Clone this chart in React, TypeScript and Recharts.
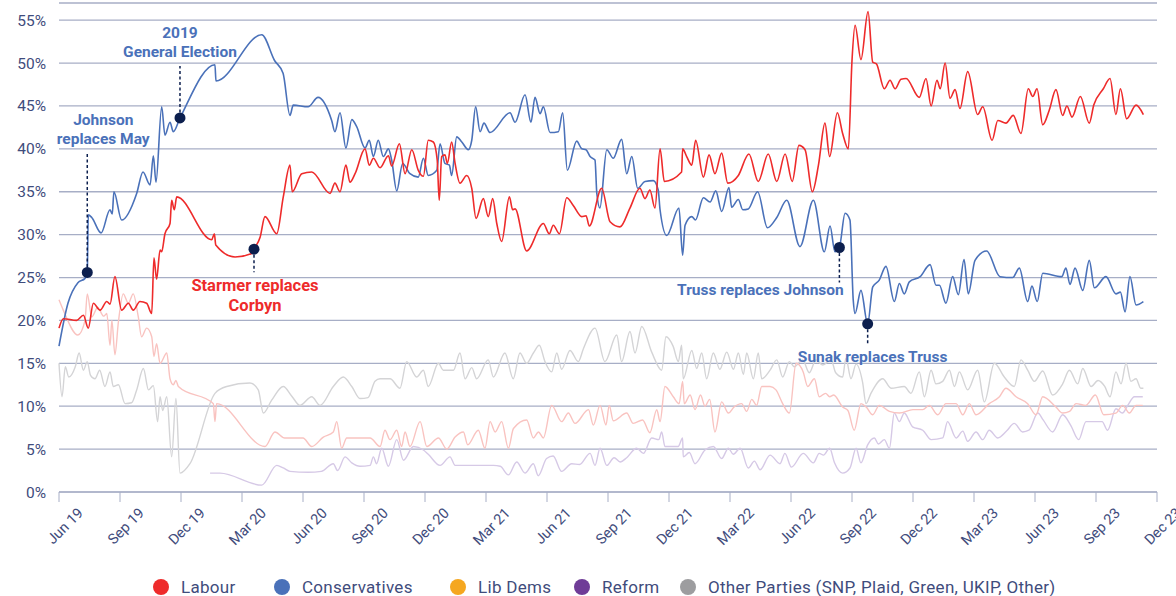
import { LineChart, Line, XAxis, YAxis, CartesianGrid, ReferenceDot } from 'recharts';

// months since Jun 2019 (0 = Jun 19, 54 = Dec 23) and vote share in %
type Pt = [number, number];

const TICK_MONTHS = [0, 3, 6, 9, 12, 15, 18, 21, 24, 27, 30, 33, 36, 39, 42, 45, 48, 51, 54];
const TICK_LABELS = [
  'Jun 19', 'Sep 19', 'Dec 19', 'Mar 20', 'Jun 20', 'Sep 20', 'Dec 20', 'Mar 21', 'Jun 21',
  'Sep 21', 'Dec 21', 'Mar 22', 'Jun 22', 'Sep 22', 'Dec 22', 'Mar 23', 'Jun 23', 'Sep 23', 'Dec 23'
];
const Y_TICKS = [0, 5, 10, 15, 20, 25, 30, 35, 40, 45, 50, 55];

const conservatives: Pt[] = [
  [0, 17.0], [0.44, 22.0], [0.93, 24.4], [1.28, 24.9], [1.39, 25.6], [1.44, 32.3], [1.61, 32.0],
  [2.07, 30.2], [2.51, 32.9], [2.62, 32.4], [2.7, 35.0], [3.08, 31.7], [3.82, 34.8], [4.13, 37.3],
  [4.48, 35.8], [4.64, 39.2], [4.77, 36.1], [5.05, 44.9], [5.21, 41.6], [5.46, 43.1], [5.62, 42.0],
  [5.95, 43.6], [7.67, 49.8], [7.72, 47.9], [9.97, 53.3], [10.6, 50.3], [11.02, 48.8], [11.36, 43.9],
  [11.52, 45.1], [12.25, 44.9], [12.74, 46.0], [13.41, 43.3], [13.57, 42.0], [13.82, 44.2],
  [14.11, 40.1], [14.4, 43.4], [14.64, 42.6], [15.05, 40.1], [15.26, 41.0], [15.46, 39.1],
  [15.7, 41.0], [15.95, 39.1], [16.2, 40.0], [16.36, 38.7], [16.61, 35.1], [16.9, 38.3],
  [17.26, 37.1], [17.67, 36.7], [17.92, 38.9], [18.16, 36.9], [18.58, 37.5], [18.74, 40.6],
  [18.98, 38.3], [19.2, 38.1], [19.31, 36.9], [19.56, 41.4], [19.81, 40.8], [20.13, 39.9],
  [20.3, 41.0], [20.49, 44.9], [20.71, 42.0], [20.9, 43.0], [21.2, 41.9], [22.18, 44.2],
  [22.43, 43.1], [22.92, 46.3], [23.21, 43.1], [23.41, 46.0], [23.66, 44.1], [23.82, 44.9],
  [24.15, 41.9], [24.56, 42.0], [24.77, 44.2], [25.0, 37.5], [25.46, 40.9], [25.71, 40.0],
  [25.92, 39.9], [26.12, 39.1], [26.36, 38.7], [26.45, 34.8], [26.6, 33.1], [26.94, 39.9],
  [27.26, 38.9], [27.67, 41.1], [27.92, 37.1], [28.17, 39.1], [28.46, 35.4], [28.82, 36.2],
  [29.23, 36.3], [29.47, 35.2], [29.56, 32.9], [29.89, 29.9], [30.49, 33.1], [30.67, 27.6],
  [30.79, 31.1], [31.12, 32.1], [31.3, 31.7], [31.69, 34.3], [32.02, 33.8], [32.3, 35.1],
  [32.59, 32.7], [32.95, 35.5], [33.08, 33.2], [33.41, 34.1], [33.63, 32.9], [33.9, 33.0],
  [34.36, 35.0], [34.84, 30.8], [35.3, 32.0], [35.79, 34.0], [36.44, 28.6], [37.1, 34.0],
  [37.64, 28.0], [37.92, 31.0], [38.16, 28.0], [38.38, 28.5], [38.66, 32.5], [38.9, 31.7],
  [39.06, 22.4], [39.15, 20.8], [39.44, 23.5], [39.77, 19.6], [40.02, 23.9], [40.34, 24.7],
  [40.67, 26.3], [41.08, 22.2], [41.33, 24.3], [41.57, 23.1], [41.82, 24.5], [42.35, 25.1],
  [42.84, 26.5], [43.13, 24.1], [43.3, 24.1], [43.62, 22.0], [43.95, 25.1], [44.23, 23.0],
  [44.51, 27.1], [44.72, 23.1], [45.05, 27.0], [45.62, 28.1], [46.28, 25.1], [46.9, 25.0],
  [47.23, 26.1], [47.64, 22.2], [47.85, 24.0], [48.11, 22.2], [48.38, 25.5], [49.31, 25.1],
  [49.52, 26.1], [49.72, 24.2], [49.97, 26.1], [50.35, 23.5], [50.67, 27.0], [50.92, 23.8],
  [51.49, 25.1], [51.98, 23.1], [52.2, 23.3], [52.43, 21.0], [52.67, 25.1], [52.97, 21.8],
  [53.33, 22.2]
];

const labour: Pt[] = [
  [0, 19.1], [0.21, 20.2], [0.87, 20.0], [1.2, 20.6], [1.44, 19.1], [1.69, 22.0], [2.02, 21.2],
  [2.35, 22.2], [2.51, 21.9], [2.75, 25.1], [3.08, 21.2], [3.41, 22.0], [3.65, 21.2], [3.98, 22.2],
  [4.31, 22.0], [4.56, 20.8], [4.67, 27.3], [4.8, 24.8], [4.97, 28.2], [5.05, 28.0], [5.21, 30.1],
  [5.46, 31.3], [5.54, 34.0], [5.67, 32.9], [5.79, 34.4], [7.51, 29.4], [7.64, 30.1], [7.71, 28.8],
  [8.66, 27.4], [9.48, 27.8], [9.59, 28.3], [9.89, 29.7], [10.13, 32.1], [10.71, 30.1],
  [11.03, 34.4], [11.36, 38.1], [11.47, 35.0], [11.94, 37.1], [12.43, 37.3], [13.33, 34.8],
  [13.57, 36.0], [13.82, 35.0], [14.11, 38.1], [14.31, 36.1], [14.56, 37.1], [15.05, 40.0],
  [15.26, 38.1], [15.46, 38.9], [15.79, 37.8], [16.2, 39.2], [16.36, 38.0], [16.74, 40.6],
  [17.02, 37.1], [17.35, 39.9], [17.67, 37.5], [17.92, 36.8], [18.16, 41.0], [18.41, 40.8],
  [18.6, 38.7], [18.7, 34.0], [18.82, 39.1], [18.98, 39.3], [19.1, 38.3], [19.31, 40.8],
  [19.48, 38.3], [19.72, 36.0], [20.05, 36.9], [20.3, 35.4], [20.51, 31.9], [20.87, 34.2],
  [21.11, 32.1], [21.33, 34.2], [21.53, 31.3], [21.77, 29.2], [22.15, 34.4], [22.31, 32.9],
  [22.43, 33.0], [23.0, 28.1], [23.82, 31.3], [24.11, 30.1], [24.31, 31.1], [24.61, 30.1],
  [24.97, 34.3], [25.29, 33.4], [25.71, 32.1], [25.92, 32.2], [26.08, 31.0], [26.69, 35.4],
  [27.1, 31.5], [27.59, 30.9], [28.08, 33.1], [28.57, 35.4], [28.82, 34.2], [29.06, 35.2],
  [29.31, 33.1], [29.56, 40.0], [29.77, 36.2], [30.62, 37.3], [30.67, 40.0], [30.87, 39.1],
  [31.12, 38.1], [31.31, 41.0], [31.69, 36.7], [31.97, 39.3], [32.26, 37.1], [32.59, 39.5],
  [32.89, 36.0], [33.41, 36.9], [33.93, 39.4], [34.39, 36.2], [34.88, 39.4], [35.3, 36.2],
  [35.71, 39.4], [36.06, 36.2], [36.39, 40.4], [36.69, 39.9], [37.05, 35.0], [37.35, 38.1],
  [37.67, 43.0], [37.9, 39.1], [38.28, 44.2], [38.54, 41.8], [38.82, 40.0], [39.0, 50.3],
  [39.15, 54.4], [39.44, 50.4], [39.79, 56.0], [40.02, 50.1], [40.2, 49.9], [40.59, 47.0],
  [40.87, 48.0], [41.12, 47.0], [41.41, 48.1], [41.66, 48.2], [42.31, 46.0], [42.64, 48.2],
  [42.89, 45.0], [43.18, 48.0], [43.34, 47.0], [43.58, 50.0], [43.82, 45.9], [44.07, 46.9],
  [44.31, 44.7], [44.69, 49.0], [45.18, 44.0], [45.43, 44.9], [45.89, 41.0], [46.17, 43.3],
  [46.57, 43.0], [46.93, 43.9], [47.31, 41.8], [47.67, 47.0], [47.89, 46.1], [48.1, 47.0],
  [48.38, 42.8], [48.7, 44.5], [49.03, 46.9], [49.36, 43.9], [49.57, 45.0], [49.82, 43.7],
  [50.23, 46.1], [50.67, 43.0], [50.89, 45.1], [51.36, 47.0], [51.69, 48.2], [51.98, 44.0],
  [52.2, 47.0], [52.51, 43.5], [52.97, 45.1], [53.33, 44.0]
];

const libDems: Pt[] = [
  [0, 22.4], [0.21, 21.2], [0.93, 18.3], [1.28, 20.0], [1.39, 23.1], [1.61, 20.4], [1.9, 21.5],
  [2.2, 20.5], [2.35, 20.8], [2.51, 17.1], [2.6, 20.0], [2.75, 16.0], [2.92, 19.8], [3.16, 23.1],
  [3.41, 22.0], [3.65, 23.1], [3.9, 20.4], [4.06, 18.1], [4.31, 19.1], [4.56, 18.1], [4.67, 15.8],
  [4.8, 17.3], [4.97, 15.0], [5.3, 16.2], [5.46, 13.2], [5.62, 12.5], [5.75, 13.0], [5.87, 12.3],
  [7.59, 10.3], [7.67, 8.2], [7.75, 10.3], [10.13, 5.3], [10.62, 7.0], [11.1, 6.3], [12.0, 6.3],
  [12.43, 5.3], [13.0, 6.4], [13.49, 7.0], [13.66, 8.2], [13.9, 5.1], [14.15, 6.3], [15.3, 6.3],
  [15.79, 5.3], [16.03, 7.2], [16.28, 6.1], [16.61, 7.2], [16.85, 5.3], [17.02, 7.0], [17.26, 5.3],
  [17.76, 8.2], [18.09, 5.3], [18.66, 6.3], [19.07, 5.0], [19.48, 6.4], [19.89, 7.0], [20.1, 5.5],
  [20.62, 7.2], [20.95, 5.1], [21.2, 8.2], [21.45, 7.0], [21.77, 8.2], [22.1, 5.1], [22.35, 7.4],
  [23.0, 8.4], [23.33, 6.3], [23.58, 7.0], [23.82, 6.3], [24.23, 10.1], [24.72, 8.2], [25.05, 9.2],
  [25.38, 8.0], [26.04, 9.6], [26.28, 7.8], [26.61, 10.1], [26.9, 7.8], [27.06, 10.1], [27.26, 8.3],
  [27.92, 9.2], [28.24, 8.0], [28.7, 8.4], [29.06, 6.9], [29.4, 9.6], [29.56, 8.2], [29.8, 12.3],
  [30.21, 11.1], [30.5, 10.3], [30.67, 12.9], [30.75, 10.3], [31.04, 11.3], [31.28, 9.6],
  [31.55, 11.3], [31.77, 10.0], [32.0, 10.8], [32.26, 7.0], [32.59, 10.5], [32.92, 9.2],
  [33.2, 9.9], [33.57, 10.3], [33.82, 9.4], [34.07, 10.8], [34.31, 10.1], [34.56, 12.3],
  [34.97, 12.3], [35.26, 11.9], [35.59, 10.3], [35.92, 9.2], [36.25, 15.0], [36.6, 14.0],
  [36.82, 12.3], [37.15, 13.2], [37.39, 11.1], [37.7, 11.5], [37.9, 11.1], [38.1, 11.3],
  [38.54, 9.9], [38.8, 9.5], [39.11, 7.2], [39.44, 10.3], [39.7, 9.9], [40.02, 9.0], [40.34, 10.1],
  [40.84, 9.4], [41.33, 9.2], [42.0, 9.6], [42.48, 9.6], [42.8, 10.1], [43.22, 9.0], [43.62, 10.3],
  [44.12, 10.3], [44.45, 9.0], [44.77, 10.3], [45.1, 9.0], [45.75, 10.3], [46.25, 11.1],
  [46.57, 12.1], [47.07, 11.1], [47.64, 10.3], [48.05, 9.0], [48.38, 11.1], [49.03, 9.9],
  [49.36, 9.2], [49.7, 9.4], [50.02, 10.3], [50.5, 10.1], [50.97, 11.3], [51.38, 9.0], [51.98, 9.2],
  [52.31, 10.1], [52.64, 9.2], [52.97, 10.1], [53.3, 10.1]
];

const reform: Pt[] = [
  [7.43, 2.2], [7.92, 2.2], [9.97, 0.8], [10.71, 3.1], [11.03, 2.8], [11.36, 2.4], [12.26, 2.3],
  [12.9, 2.4], [13.49, 3.3], [13.7, 2.5], [14.07, 4.1], [14.4, 3.4], [14.8, 3.0], [15.3, 3.1],
  [15.46, 4.1], [15.62, 3.3], [15.87, 5.1], [16.2, 3.0], [16.61, 6.1], [16.94, 3.7], [17.43, 5.3],
  [17.92, 4.9], [18.16, 4.4], [18.74, 3.1], [19.23, 4.1], [19.48, 3.1], [21.36, 3.1], [21.7, 3.0],
  [22.1, 2.0], [22.51, 3.5], [22.92, 2.2], [23.33, 3.3], [23.57, 1.9], [23.98, 3.9], [24.3, 4.2],
  [24.72, 2.4], [25.21, 3.3], [25.6, 3.2], [26.12, 4.5], [26.36, 3.1], [26.61, 5.1], [26.94, 3.1],
  [27.3, 4.0], [27.6, 3.5], [27.92, 4.0], [28.41, 5.1], [28.74, 4.5], [29.15, 6.3], [29.5, 6.1],
  [29.64, 7.0], [29.8, 5.3], [30.45, 5.3], [30.67, 6.3], [30.7, 4.1], [31.0, 4.6], [31.28, 3.3],
  [31.77, 4.9], [32.18, 5.3], [32.59, 3.9], [32.92, 5.1], [33.16, 4.4], [33.5, 5.1], [33.9, 2.8],
  [34.2, 3.6], [34.48, 2.6], [34.97, 4.3], [35.46, 3.3], [35.7, 4.5], [36.02, 2.9], [36.6, 4.5],
  [37.1, 3.4], [37.39, 4.5], [37.6, 4.3], [37.9, 5.1], [38.14, 3.4], [38.54, 2.2], [38.9, 2.8],
  [39.2, 5.1], [39.44, 3.4], [39.77, 5.5], [40.1, 6.3], [40.3, 5.6], [40.59, 6.1], [40.84, 5.1],
  [41.08, 9.2], [41.33, 8.2], [41.57, 9.2], [41.98, 7.6], [42.48, 7.2], [42.89, 6.1], [43.46, 6.3],
  [43.7, 8.2], [44.12, 6.3], [44.45, 7.1], [44.69, 5.9], [45.1, 7.0], [45.43, 6.1], [45.75, 7.2],
  [46.17, 6.3], [46.6, 7.1], [46.98, 8.0], [47.39, 7.0], [47.7, 7.2], [48.14, 9.2], [48.4, 8.4],
  [48.87, 7.0], [49.36, 9.0], [49.75, 7.8], [50.15, 6.1], [50.51, 8.2], [51.0, 8.2], [51.3, 8.2],
  [51.57, 7.2], [51.98, 9.7], [52.3, 9.2], [52.56, 10.1], [52.89, 11.1], [53.3, 11.1]
];

const otherParties: Pt[] = [
  [0, 15.0], [0.15, 11.1], [0.31, 14.6], [0.48, 13.4], [0.8, 14.6], [0.99, 16.2], [1.2, 14.2],
  [1.39, 15.2], [1.55, 13.6], [1.77, 13.2], [2.0, 14.2], [2.26, 12.3], [2.51, 14.0], [2.67, 12.3],
  [2.92, 12.5], [3.25, 10.3], [3.57, 10.4], [3.82, 11.9], [4.15, 14.4], [4.4, 11.9], [4.64, 12.4],
  [4.85, 8.2], [4.97, 11.1], [5.1, 9.5], [5.3, 11.1], [5.54, 4.1], [5.75, 10.9], [5.95, 2.2],
  [6.44, 3.3], [7.67, 11.5], [8.25, 12.3], [9.39, 12.7], [9.8, 11.9], [10.05, 9.2], [10.46, 10.7],
  [11.03, 12.3], [11.44, 11.2], [11.85, 10.1], [12.43, 11.1], [12.84, 10.1], [13.49, 12.3],
  [13.98, 13.4], [14.4, 12.3], [14.8, 10.9], [15.2, 11.0], [15.54, 12.9], [15.79, 13.2],
  [16.28, 13.2], [16.77, 12.1], [17.1, 15.2], [17.59, 13.4], [17.92, 14.2], [18.16, 12.3],
  [18.66, 15.0], [18.9, 14.2], [19.4, 14.2], [19.72, 16.2], [19.97, 13.2], [20.3, 14.5],
  [20.54, 13.2], [21.11, 15.4], [21.36, 13.4], [21.93, 16.2], [22.34, 13.2], [22.67, 16.2],
  [23.0, 15.0], [23.33, 16.2], [23.62, 17.1], [23.9, 15.2], [24.23, 14.0], [24.48, 16.2],
  [24.72, 14.3], [25.13, 16.5], [25.54, 15.2], [25.79, 16.7], [26.36, 19.1], [26.85, 15.2],
  [27.43, 18.3], [27.67, 15.2], [28.08, 18.7], [28.33, 16.2], [28.66, 19.3], [29.15, 16.3],
  [29.64, 14.2], [29.85, 18.1], [30.2, 17.0], [30.46, 15.2], [30.62, 17.1], [30.7, 13.2],
  [31.12, 16.5], [31.36, 14.4], [31.61, 16.2], [31.85, 13.2], [32.18, 16.2], [32.5, 14.3],
  [32.84, 16.3], [33.17, 14.3], [33.41, 16.2], [33.66, 13.7], [33.82, 16.2], [34.15, 13.2],
  [34.39, 16.2], [34.56, 13.2], [34.97, 14.2], [35.3, 15.4], [35.59, 13.4], [35.92, 15.2],
  [36.16, 14.6], [36.57, 15.4], [36.9, 13.9], [37.23, 15.4], [37.56, 14.8], [37.97, 15.4],
  [38.2, 13.9], [38.54, 13.4], [38.7, 15.6], [38.95, 13.2], [39.2, 14.9], [39.52, 12.8],
  [39.69, 10.3], [39.93, 11.5], [40.51, 13.2], [40.92, 12.1], [41.57, 12.3], [41.9, 11.5],
  [42.31, 14.0], [42.56, 11.1], [42.89, 14.2], [43.13, 12.6], [43.46, 12.9], [43.79, 14.2],
  [44.04, 12.3], [44.28, 14.0], [44.69, 11.9], [45.18, 14.2], [45.51, 10.5], [46.0, 15.0],
  [46.49, 13.4], [46.98, 12.3], [47.31, 15.4], [47.64, 14.2], [47.97, 12.9], [48.38, 14.1],
  [48.87, 11.3], [49.36, 12.6], [49.69, 14.2], [50.1, 12.6], [50.35, 14.4], [50.76, 12.3],
  [51.1, 13.0], [51.43, 12.3], [51.69, 11.1], [51.98, 14.0], [52.23, 12.6], [52.48, 15.0],
  [52.72, 12.9], [52.97, 13.2], [53.2, 12.1], [53.33, 12.1]
];

const LEGEND_NAMES = ['Labour', 'Conservatives', 'Lib Dems', 'Reform', 'Other Parties (SNP, Plaid, Green, UKIP, Other)'];
const LEGEND_COLORS = ['#ee2b2b', '#4a71b9', '#f5a720', '#6f3c97', '#9d9d9f'];
const LEGEND_LEFT = [153, 274, 450, 574, 680];

const NAVY = '#0c1f4e';
const BLUE_TEXT = '#4a71b9';
const RED_TEXT = '#ee2b2b';
const AXIS_TEXT = '#3f4c7c';
const GRID = '#a7aec6';
const FONT = 'Roboto, "Noto Sans", sans-serif';

// annotated events: where the marker sits, and how its label is offset (px)
const events = [
  { m: 1.39, v: 25.6, lineDy: -120, color: BLUE_TEXT, dx: 16, lines: ['Johnson', 'replaces May'], dys: [-147, -128] },
  { m: 5.95, v: 43.6, lineDy: -52, color: BLUE_TEXT, dx: 0, lines: ['2019', 'General Election'], dys: [-80, -61] },
  { m: 9.59, v: 28.3, lineDy: 23, color: RED_TEXT, dx: 1, lines: ['Starmer replaces', 'Corbyn'], dys: [42, 62] },
  { m: 38.38, v: 28.5, lineDy: 35, color: BLUE_TEXT, dx: -79, lines: ['Truss replaces Johnson'], dys: [47] },
  { m: 39.77, v: 19.6, lineDy: 22, color: BLUE_TEXT, dx: 5, lines: ['Sunak replaces Truss'], dys: [38] }
];

const toRows = (pts: Pt[]) => pts.map(([m, v]) => ({ m, v }));

function EventMarker(props: any) {
  const { cx, cy, ev } = props;
  if (cx == null || cy == null) return null;
  return (
    <g>
      <line x1={cx} y1={cy} x2={cx} y2={cy + ev.lineDy} stroke={NAVY} strokeWidth={1.5} strokeDasharray="3 2.5" />
      <circle cx={cx} cy={cy} r={5.5} fill={NAVY} />
      {ev.lines.map((t: string, i: number) => (
        <text
          key={i}
          x={cx + ev.dx}
          y={cy + ev.dys[i]}
          textAnchor="middle"
          fill={ev.color}
          fontSize={ev.color === RED_TEXT ? 16.5 : 15.5}
          fontWeight={700}
          fontFamily={FONT}
        >
          {t}
        </text>
      ))}
    </g>
  );
}

function MonthTick(props: any) {
  const { x, y, payload } = props;
  const idx = TICK_MONTHS.indexOf(payload.value);
  const ax = x + 25;
  const ay = y + 10;
  return (
    <text
      x={ax}
      y={ay}
      transform={`rotate(-45, ${ax}, ${ay})`}
      textAnchor="end"
      fill={AXIS_TEXT}
      fontSize={14.5}
      fontFamily={FONT}
    >
      {TICK_LABELS[idx]}
    </text>
  );
}

export default function App() {
  return (
    <div style={{ position: 'absolute', left: 0, top: 0, width: 1176, height: 596, background: '#fff', fontFamily: FONT, overflow: 'hidden' }}>
      <LineChart width={1176} height={596} margin={{ top: 3, right: 19, left: 0, bottom: 34 }}>
        <CartesianGrid vertical={false} stroke={GRID} strokeWidth={1.3} />
        <XAxis
          dataKey="m"
          type="number"
          domain={[0, 54]}
          ticks={TICK_MONTHS}
          interval={0}
          height={70}
          stroke={GRID}
          tickSize={10}
          tick={<MonthTick />}
          allowDuplicatedCategory={false}
        />
        <YAxis
          type="number"
          domain={[0, 57]}
          ticks={Y_TICKS}
          width={59}
          axisLine={false}
          tickLine={false}
          tickMargin={7}
          tickFormatter={(v: number) => `${v}%`}
          tick={{ fill: AXIS_TEXT, fontSize: 15.5, fontFamily: FONT }}
        />
        <Line data={toRows(otherParties)} dataKey="v" type="monotone" stroke="#d4d4d6" strokeWidth={1.4} dot={false} isAnimationActive={false} />
        <Line data={toRows(reform)} dataKey="v" type="monotone" stroke="#d6c9e6" strokeWidth={1.4} dot={false} isAnimationActive={false} />
        <Line data={toRows(libDems)} dataKey="v" type="monotone" stroke="#f9c3c0" strokeWidth={1.4} dot={false} isAnimationActive={false} />
        <Line data={toRows(conservatives)} dataKey="v" type="monotone" stroke="#4a71b9" strokeWidth={1.6} dot={false} isAnimationActive={false} />
        <Line data={toRows(labour)} dataKey="v" type="monotone" stroke="#ee2b2b" strokeWidth={1.6} dot={false} isAnimationActive={false} />
        {events.map((ev, i) => (
          <ReferenceDot key={i} x={ev.m} y={ev.v} r={5.5} shape={(p: any) => <EventMarker {...p} ev={ev} />} />
        ))}
      </LineChart>
      {LEGEND_NAMES.map((name, i) => (
        <div
          key={name}
          style={{ position: 'absolute', left: LEGEND_LEFT[i], top: 577, height: 20, display: 'flex', alignItems: 'center', whiteSpace: 'nowrap' }}
        >
          <span style={{ width: 16, height: 16, borderRadius: 8, background: LEGEND_COLORS[i], display: 'inline-block', marginRight: 12 }} />
          <span style={{ color: AXIS_TEXT, fontSize: 17, letterSpacing: 0.3 }}>{name}</span>
        </div>
      ))}
    </div>
  );
}
